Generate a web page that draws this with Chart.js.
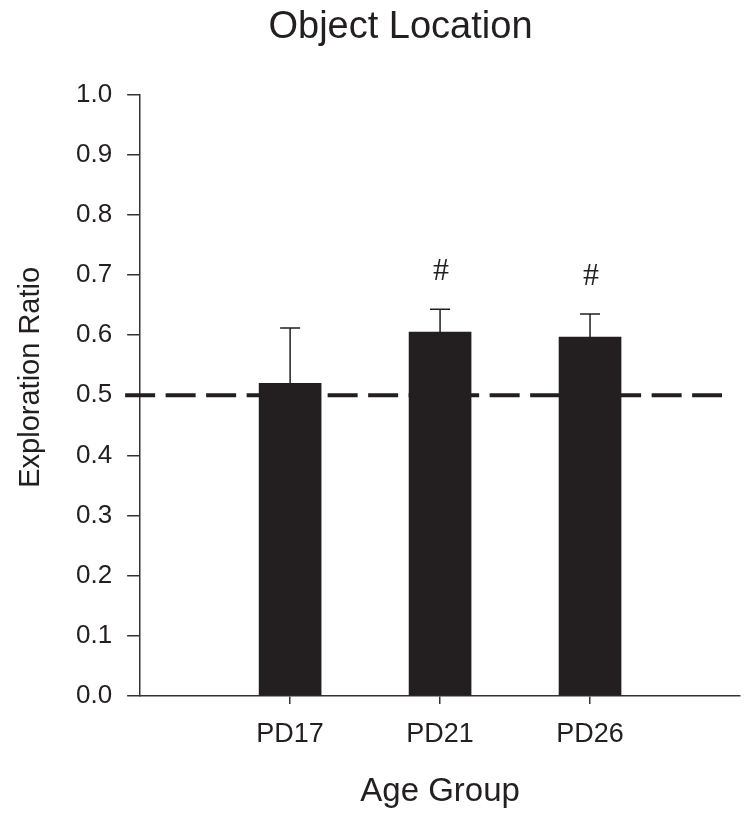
<!DOCTYPE html>
<html>
<head>
<meta charset="utf-8">
<script src="https://cdn.jsdelivr.net/npm/chart.js@4.4.1/dist/chart.umd.min.js"></script>
<style>
  html, body { margin: 0; padding: 0; background: #fff; }
  #wrap { width: 750px; height: 829px; position: relative; }
</style>
</head>
<body>
<div id="wrap"><canvas id="chart"></canvas></div>
<script>
// data
const categories = ['PD17', 'PD21', 'PD26'];
const means = [0.520, 0.605, 0.597];
const upperErr = [0.612, 0.643, 0.635];
const marks = ['', '#', '#'];
const refLine = 0.5;
const yTicks = [0.0, 0.1, 0.2, 0.3, 0.4, 0.5, 0.6, 0.7, 0.8, 0.9, 1.0];

const ink = '#231f20';
const sans = 'Arial, "Liberation Sans", sans-serif';

// error bars, the dashed reference line, '#' markers and the y title
const extras = {
    id: 'extras',
    afterDatasetsDraw(chart) {
        const ctx = chart.ctx;
        const xs = chart.scales.x, ys = chart.scales.y;
        const area = chart.chartArea;

        ctx.save();
        // error bars (upper only)
        ctx.strokeStyle = ink;
        ctx.lineWidth = 1.5;
        categories.forEach((c, i) => {
            const x = xs.getPixelForValue(i + 1);
            const y0 = ys.getPixelForValue(means[i]);
            const y1 = ys.getPixelForValue(upperErr[i]);
            ctx.beginPath();
            ctx.moveTo(x, y0);
            ctx.lineTo(x, y1);
            ctx.moveTo(x - 10, y1);
            ctx.lineTo(x + 10, y1);
            ctx.stroke();
        });

        // dashed reference line at 0.5
        const yr = ys.getPixelForValue(refLine);
        ctx.strokeStyle = ink;
        ctx.lineWidth = 4;
        ctx.setLineDash([30, 10.5]);
        ctx.beginPath();
        ctx.moveTo(area.left - 15, yr);
        ctx.lineTo(area.right - 18, yr);
        ctx.stroke();
        ctx.setLineDash([]);

        // significance markers
        ctx.fillStyle = ink;
        ctx.font = '32px "Liberation Serif", "Times New Roman", serif';
        ctx.textAlign = 'center';
        ctx.textBaseline = 'middle';
        categories.forEach((c, i) => {
            if (!marks[i]) return;
            const x = xs.getPixelForValue(i + 1);
            const y = ys.getPixelForValue(upperErr[i]) - 38;
            ctx.fillText(marks[i], x + 1, y);
        });

        // y axis title
        ctx.font = '29px ' + sans;
        ctx.translate(31, (area.top + area.bottom) / 2 - 18);
        ctx.rotate(-Math.PI / 2);
        ctx.fillText('Exploration Ratio', 0, 0);
        ctx.restore();
    }
};

new Chart(document.getElementById('chart'), {
    type: 'bar',
    data: {
        datasets: [{
            data: categories.map((c, i) => ({ x: i + 1, y: means[i] })),
            backgroundColor: ink,
            borderWidth: 0,
            barThickness: 62
        }]
    },
    options: {
        responsive: true,
        maintainAspectRatio: false,
        animation: false,
        layout: { padding: { left: 61, right: 10, top: 0, bottom: 0 } },
        plugins: {
            legend: { display: false },
            tooltip: { enabled: false },
            title: {
                display: true,
                text: 'Object Location',
                color: ink,
                font: { family: sans, size: 38, weight: 'normal' },
                padding: { top: 5, bottom: 44 }
            }
        },
        scales: {
            x: {
                type: 'linear',
                min: 0,
                max: 4,
                offset: false,
                afterBuildTicks: (scale) => {
                    scale.ticks = categories.map((c, i) => ({ value: i + 1 }));
                },
                ticks: {
                    color: ink,
                    font: { family: sans, size: 27 },
                    padding: 14,
                    maxRotation: 0,
                    callback: (v) => categories[v - 1]
                },
                grid: { drawOnChartArea: false, offset: false, tickLength: 8, color: '#333', lineWidth: 1.5 },
                border: { display: true, color: '#333', width: 1.5 },
                title: {
                    display: true,
                    text: 'Age Group',
                    color: ink,
                    font: { family: sans, size: 33 },
                    padding: { top: 8, bottom: 17 }
                }
            },
            y: {
                min: 0,
                max: 1,
                afterBuildTicks: (scale) => {
                    scale.ticks = yTicks.map(v => ({ value: v }));
                },
                ticks: {
                    color: ink,
                    font: { family: sans, size: 26 },
                    padding: 15,
                    callback: (v) => v.toFixed(1)
                },
                grid: { drawOnChartArea: false, tickLength: 13, color: '#333', lineWidth: 1.5 },
                border: { display: true, color: '#333', width: 1.5 }
            }
        }
    },
    plugins: [extras]
});
</script>
</body>
</html>
